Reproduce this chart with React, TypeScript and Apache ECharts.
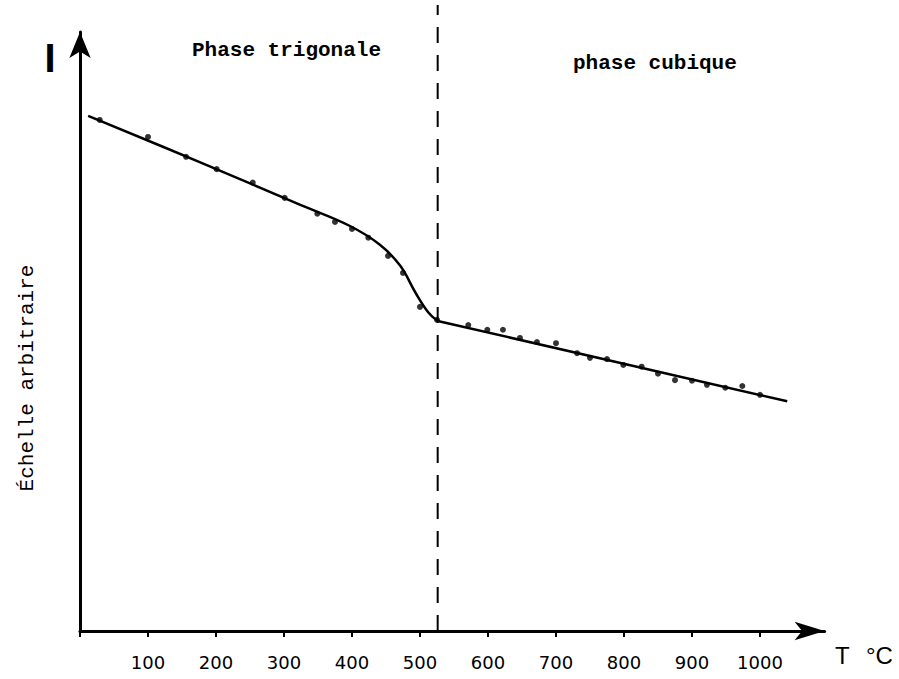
import React, { useEffect, useRef } from "react";
import * as echarts from "echarts";

// Temperature tick labels (°C)
const tickValues = [100, 200, 300, 400, 500, 600, 700, 800, 900, 1000];

// Fitted curve, trigonal phase (T °C, intensity, arbitrary scale)
const curveTrigT = [12, 176, 324, 397, 441, 471, 493, 512, 526];
const curveTrigI = [87.9, 80.0, 72.7, 69.1, 65.9, 62.3, 57.8, 54.4, 52.9];

// Fitted line, cubic phase
const lineCubT = [526, 1040];
const lineCubI = [52.9, 39.2];

// Measured points, trigonal phase
const ptsTrigT = [29, 100, 156, 201, 254, 301, 349, 375, 400, 424, 453, 475, 500, 525];
const ptsTrigI = [87.2, 84.3, 80.9, 78.8, 76.5, 73.9, 71.2, 69.8, 68.6, 67.1, 64.0, 61.1, 55.3, 53.1];

// Measured points, cubic phase
const ptsCubT = [571, 599, 622, 647, 672, 700, 731, 750, 775, 799, 826, 850, 875, 900, 922, 949, 974, 1000];
const ptsCubI = [52.2, 51.4, 51.4, 50.0, 49.3, 49.1, 47.4, 46.6, 46.4, 45.4, 45.1, 43.9, 42.8, 42.7, 42.0, 41.5, 41.8, 40.3];

// Phase transition temperature
const transitionT = 526;

const zip = (a: number[], b: number[]) => a.map((v, i) => [v, b[i]]);

export default function App() {
  const ref = useRef<HTMLDivElement>(null);
  useEffect(() => {
    if (!ref.current) return;
    const chart = echarts.init(ref.current, null, { renderer: "svg" });
    const black = "#000";
    const gridLeft = 80;
    const gridRight = 74.4;
    const gridBottom = 48;
    chart.setOption({
      animation: false,
      backgroundColor: "#fff",
      grid: [
        { left: gridLeft, right: gridRight, top: 32, bottom: gridBottom },
        { left: gridLeft, right: gridRight, top: 5, bottom: gridBottom },
      ],
      xAxis: [
        {
          type: "value",
          gridIndex: 0,
          min: 0,
          max: 1095,
          interval: 100,
          splitLine: { show: false },
          axisLine: {
            show: true,
            lineStyle: { color: black, width: 3 },
            symbol: ["none", "arrow"],
            symbolSize: [14, 30],
          },
          axisTick: { show: true, inside: false, length: 6, lineStyle: { color: black, width: 2 } },
          axisLabel: {
            color: black,
            fontFamily: "DejaVu Sans",
            fontSize: 18,
            margin: 22,
            showMaxLabel: false,
            formatter: (v: number) => (tickValues.includes(v) ? String(v) : ""),
          },
        },
        { type: "value", gridIndex: 1, min: 0, max: 1095, show: false },
      ],
      yAxis: [
        {
          type: "value",
          gridIndex: 0,
          min: 0,
          max: 102.2,
          splitLine: { show: false },
          axisLine: {
            show: true,
            lineStyle: { color: black, width: 3 },
            symbol: ["none", "arrow"],
            symbolSize: [16, 26],
          },
          axisTick: { show: false },
          axisLabel: { show: false },
        },
        { type: "value", gridIndex: 1, min: 0, max: 1, show: false },
      ],
      series: [
        {
          type: "line",
          xAxisIndex: 1,
          yAxisIndex: 1,
          data: [
            [transitionT, 0],
            [transitionT, 1],
          ],
          showSymbol: false,
          lineStyle: { color: black, width: 2, type: [16, 12] },
          silent: true,
        },
        {
          type: "line",
          data: zip(curveTrigT, curveTrigI),
          smooth: 0.4,
          showSymbol: false,
          lineStyle: { color: black, width: 2.5 },
        },
        {
          type: "line",
          data: zip(lineCubT, lineCubI),
          showSymbol: false,
          lineStyle: { color: black, width: 2.5 },
        },
        {
          type: "scatter",
          data: zip(ptsTrigT, ptsTrigI).concat(zip(ptsCubT, ptsCubI)),
          symbol: "circle",
          symbolSize: 6,
          itemStyle: { color: black },
        },
      ],
      graphic: [
        {
          type: "text",
          x: 192,
          y: 50,
          style: {
            text: "Phase trigonale",
            fill: black,
            font: "bold 21px 'Liberation Mono'",
            verticalAlign: "middle",
            align: "left",
          },
        },
        {
          type: "text",
          x: 573,
          y: 63,
          style: {
            text: "phase cubique",
            fill: black,
            font: "bold 21px 'Liberation Mono'",
            verticalAlign: "middle",
            align: "left",
          },
        },
        {
          type: "text",
          x: 27,
          y: 378,
          rotation: Math.PI / 2,
          style: {
            text: "Échelle arbitraire",
            fill: black,
            font: "21px 'Liberation Mono'",
            verticalAlign: "middle",
            align: "center",
          },
        },
        {
          type: "text",
          x: 50,
          y: 58,
          style: {
            text: "I",
            fill: black,
            font: "bold 40px 'Liberation Sans'",
            verticalAlign: "middle",
            align: "center",
          },
        },
        {
          type: "text",
          x: 835,
          y: 655,
          style: {
            text: "T",
            fill: black,
            font: "24px 'Liberation Sans'",
            verticalAlign: "middle",
            align: "left",
          },
        },
        {
          type: "text",
          x: 866,
          y: 655,
          style: {
            text: "°C",
            fill: black,
            font: "24px 'Liberation Sans'",
            verticalAlign: "middle",
            align: "left",
          },
        },
      ],
    });
    return () => chart.dispose();
  }, []);
  return (
    <div
      ref={ref}
      style={{ position: "absolute", left: 0, top: 0, width: 899, height: 679 }}
    />
  );
}
